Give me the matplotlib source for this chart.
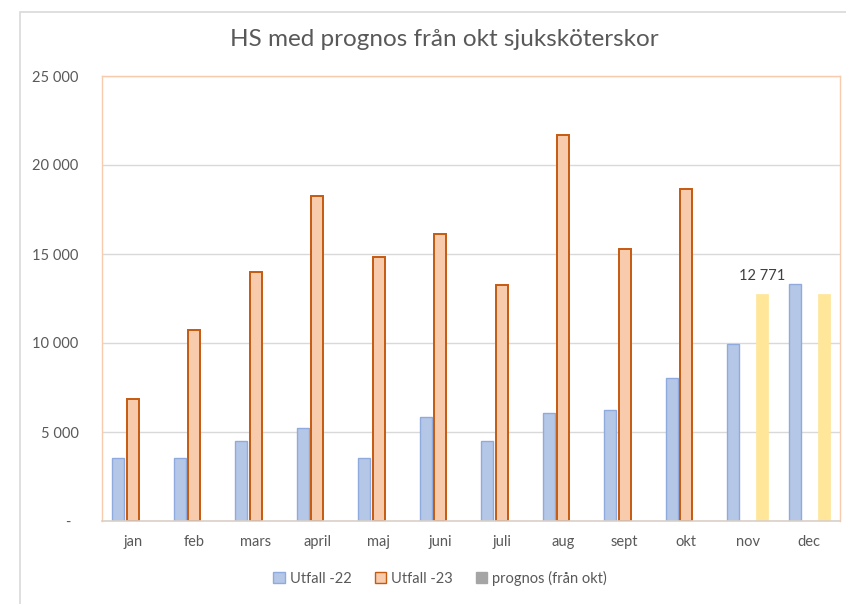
import matplotlib.pyplot as plt
import numpy as np
from matplotlib.patches import Patch, Rectangle

months = ["jan", "feb", "mars", "april", "maj", "juni", "juli", "aug", "sept", "okt", "nov", "dec"]
utfall_22 = [3540, 3540, 4490, 5200, 3550, 5850, 4510, 6080, 6230, 8040, 9960, 13300]
utfall_23 = [6830, 10720, 13970, 18280, 14810, 16120, 13260, 21700, 15280, 18630, np.nan, np.nan]
prognos = [np.nan] * 10 + [12771, 12771]
yticks = [0, 5000, 10000, 15000, 20000, 25000]
ytick_labels = ["-  ", "5 000", "10 000", "15 000", "20 000", "25 000"]

plt.rcParams['font.family'] = ['Lato', 'DejaVu Sans']
txt = "#595959"

fig = plt.figure(figsize=(8.46, 6.04), dpi=100)
ax = fig.add_axes([102 / 846, 1 - 521 / 604, 738 / 846, 445 / 604])

# chart area border (only top/left visible)
fig.patches.append(Rectangle((20 / 846, -0.1), 1.2, 1 - 12 / 604 + 0.1, transform=fig.transFigure,
                             fill=False, edgecolor="#d9d9d9", linewidth=1.2))

x = np.arange(len(months))
w = 0.2
off = 0.235
ax.bar(x - off, utfall_22, w, color="#b4c7e7", edgecolor="#8faadc", linewidth=1, zorder=3)
ax.bar(x, utfall_23, w, color="#f8cbad", edgecolor="#c55a11", linewidth=1.4, zorder=3)
ax.bar(x + off, prognos, w, color="#ffe699", edgecolor="#ffe699", linewidth=0.5, zorder=3)

ax.annotate("12 771", (x[10] + off, prognos[10]), xytext=(0, 8), textcoords="offset points",
            ha="center", va="bottom", fontsize=10.5, color="#404040")

ax.set_xlim(-0.5, len(months) - 0.5)
ax.set_ylim(0, 25000)
ax.set_yticks(yticks)
ax.set_yticklabels(ytick_labels)
ax.set_xticks(x)
ax.set_xticklabels(months)
ax.tick_params(axis="both", length=0, labelsize=10.5, labelcolor=txt)
ax.tick_params(axis="y", pad=17)
ax.tick_params(axis="x", pad=10)
ax.grid(axis="y", color="#d9d9d9", linewidth=1, zorder=0)
for s in ["top", "left", "right"]:
    ax.spines[s].set_color("#f8cbad")
    ax.spines[s].set_linewidth(1)
ax.spines["bottom"].set_color("#d9d0c8")
ax.spines["bottom"].set_linewidth(1.2)
ax.spines["bottom"].set_zorder(4)

fig.text(444 / 846, 1 - 40 / 604, "HS med prognos från okt sjuksköterskor", ha="center", va="center",
         fontsize=17.5, color=txt)

handles = [Patch(facecolor="#b4c7e7", edgecolor="#8faadc", label="Utfall -22"),
           Patch(facecolor="#f8cbad", edgecolor="#c55a11", label="Utfall -23"),
           Patch(facecolor="#a5a5a5", edgecolor="#a5a5a5", label="prognos (från okt)")]
fig.legend(handles=handles, loc="center", bbox_to_anchor=(440 / 846, 1 - 578 / 604), ncol=3,
           frameon=False, fontsize=10.5, labelcolor=txt, handlelength=0.8, handleheight=0.8,
           handletextpad=0.3, columnspacing=1.6)

fig.savefig("out.png", dpi=100)
